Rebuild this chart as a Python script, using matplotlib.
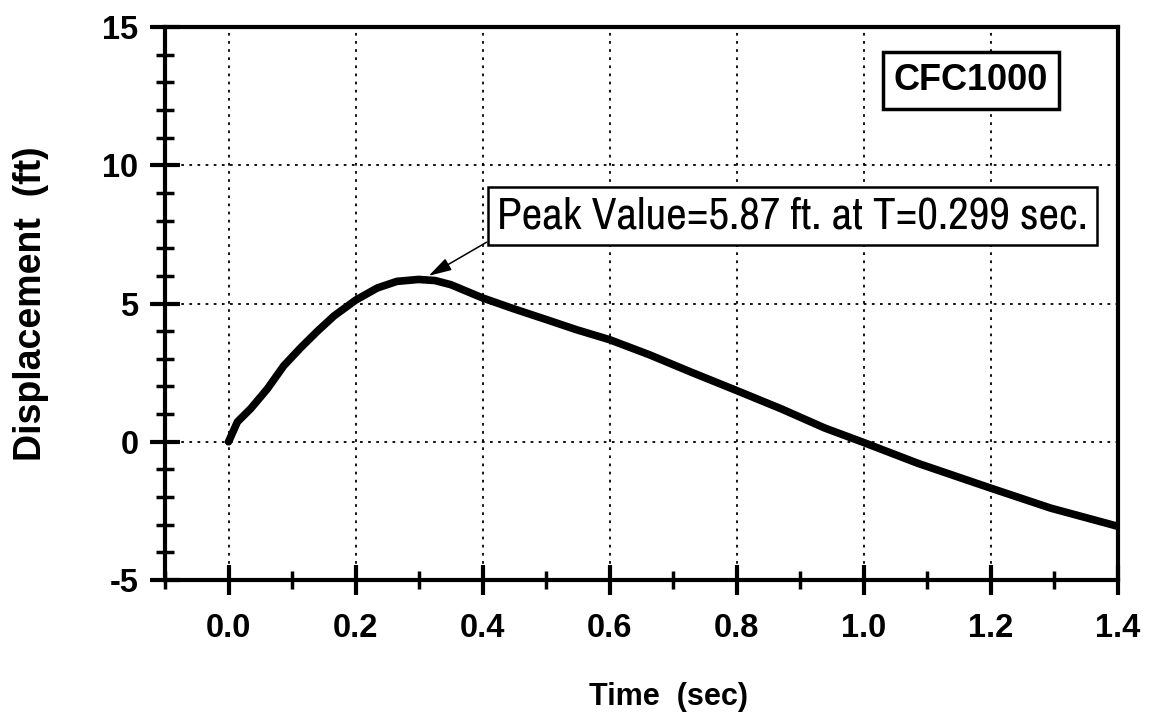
'''
Displacement time history (CFC1000 filtered) with the peak value called out.
'''

import numpy as np
import matplotlib.pyplot as plt
from matplotlib import font_manager

plt.rcParams['font.family'] = ['Liberation Sans', 'DejaVu Sans']
plt.rcParams['axes.unicode_minus'] = False

# curve
TIME = [0, 0.014, 0.035, 0.061, 0.087, 0.114, 0.14, 0.166, 0.2, 0.234,
        0.265, 0.299, 0.325, 0.35, 0.4, 0.45, 0.5, 0.548, 0.6, 0.662,
        0.73, 0.8, 0.87, 0.938, 1.0, 1.085, 1.2, 1.294, 1.4]
DISP = [0, 0.72, 1.2, 1.91, 2.75, 3.41, 4.0, 4.55, 5.12, 5.56,
        5.80, 5.87, 5.83, 5.68, 5.2, 4.8, 4.42, 4.05, 3.69, 3.15,
        2.5, 1.85, 1.19, 0.5, -0.03, -0.78, -1.68, -2.4, -3.06]

PEAK_T = 0.299
PEAK_V = 5.87
FILTER_NAME = 'CFC1000'

X_TICKS = [0.0, 0.2, 0.4, 0.6, 0.8, 1.0, 1.2, 1.4]
Y_TICKS = [-5, 0, 5, 10, 15]
X_GRID = [0.0, 0.2, 0.4, 0.6, 0.8, 1.0, 1.2]
Y_GRID = [0, 5, 10]

# the callout uses a narrow face in the original, take one if there is one
narrow = [f.name for f in font_manager.fontManager.ttflist
          if 'Narrow' in f.name or 'Condensed' in f.name]
if narrow:
    note_font = dict(family=[narrow[0], 'Liberation Sans'], fontsize=32.5)
else:
    note_font = dict(family=['Liberation Sans', 'DejaVu Sans'], fontsize=26.5)

fig = plt.figure(figsize=(11.53, 7.26), dpi=100)
ax = fig.add_axes([165/1153, 1 - 580/726, 953/1153, 553/726])

ax.plot(TIME, DISP, color='k', lw=5.5, solid_capstyle='round',
        solid_joinstyle='round', zorder=3)

ax.set_xlim(-0.1, 1.4)
ax.set_ylim(-5, 15)

# dotted grid on the major positions only
for gx in X_GRID:
    ax.axvline(gx, color='k', lw=1.3, ls=(0, (1.5, 3)), zorder=1)
for gy in Y_GRID:
    ax.axhline(gy, color='k', lw=1.3, ls=(0, (1.5, 3)), zorder=1)

ax.set_xticks(X_TICKS)
ax.set_xticklabels([f'{v:.1f}' for v in X_TICKS])
ax.set_xticks(np.arange(-0.1, 1.41, 0.1), minor=True)
ax.set_yticks(Y_TICKS)
ax.set_yticklabels([str(v) for v in Y_TICKS])
ax.set_yticks(np.arange(-5, 15.1, 1), minor=True)

ax.tick_params(which='major', direction='inout', length=21, width=3,
               labelsize=23.5)
ax.tick_params(axis='x', which='major', pad=13)
ax.tick_params(axis='y', which='major', pad=8.5)
ax.tick_params(which='minor', direction='inout', length=13.5, width=2.5)
for lab in ax.get_xticklabels() + ax.get_yticklabels():
    lab.set_fontweight('bold')

for sp in ax.spines.values():
    sp.set_linewidth(3)

ax.set_xlabel('Time  (sec)', fontsize=22, fontweight='bold')
ax.xaxis.set_label_coords(0.528, -0.185)
ax.set_ylabel('Displacement  (ft)', fontsize=27, fontweight='bold')
ax.yaxis.set_label_coords(-0.122, 0.5)

ax.text(1.168, 13.06, FILTER_NAME, fontsize=26, fontweight='bold',
        ha='center', va='center', zorder=4,
        bbox=dict(boxstyle='square,pad=0.3', fc='white', ec='k', lw=2.5))

ax.annotate(f'Peak Value={PEAK_V} ft. at T={PEAK_T} sec.',
            xy=(PEAK_T + 0.016, PEAK_V + 0.13), xytext=(0.887, 8.15),
            ha='center', va='center', zorder=4, **note_font,
            bbox=dict(boxstyle='square,pad=0.2', fc='white', ec='k', lw=1.8),
            arrowprops=dict(arrowstyle='-|>,head_length=0.7,head_width=0.2',
                            mutation_scale=20, color='k', lw=1.1,
                            shrinkA=0, shrinkB=0, relpos=(0, 0)))

fig.savefig('out.png', dpi=100)
